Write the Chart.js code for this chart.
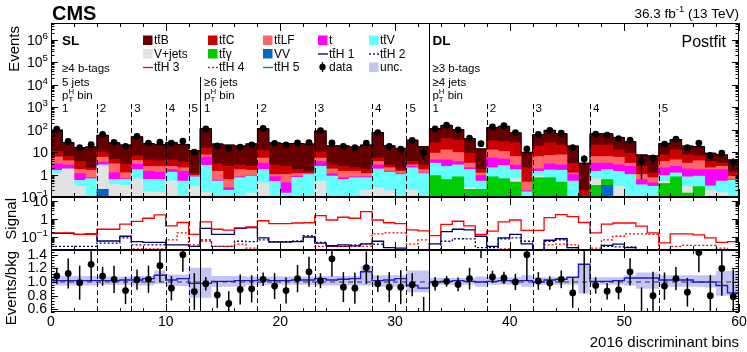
<!DOCTYPE html>
<html>
<head>
<meta charset="utf-8">
<title>2016 discriminant bins</title>
<script src="https://cdn.jsdelivr.net/npm/chart.js@4.4.1/dist/chart.umd.min.js"></script>
<style>
  body { margin: 0; background: #fff; }
  #wrap { position: relative; width: 747px; height: 352px; }
  #wrap canvas { position: absolute; left: 0; top: 0; }
</style>
</head>
<body>
<div id="wrap">
  <canvas id="main" width="747" height="352"></canvas>
  <canvas id="signal" width="747" height="352"></canvas>
  <canvas id="ratio" width="747" height="352"></canvas>
</div>
<script>
// DATA (60 discriminant bins)
const ttB = [85,20,12,15,46,21,17.7,41,19.5,18, 22.5,18.4,10.5,95,20,18.3,16,21,98,23.3,
  21.7,22.3,21.6,78,16.3,16.7,15,19,68.6,16.3, 12.9,30.2,14.7,84,115,66,31,12.2,90,111,
  46,7.8,41.4,67,45.4,15.4,3.0,45.4,45.4,32.6, 20.1,5.2,5.62,16.5,23.6,11.1,10.6,5.1,4.3,3.23];
const ttC = [4.5,2.2,2.1,0.41,3.9,1.8,1.7,2.6,2.2,1.8, 2.2,1.6,0.2,7.5,1.6,1.7,1.04,0.75,6.2,1.65,
  1.3,0.56,0.3,4.4,0.93,0.9,0.6,0.56,1.6,0.7, 0.4,1.1,1.04,17,27.6,24.5,5.7,0.48,19.6,18.5,
  19.7,1.54,12.3,19,13.1,2.0,0.2,14.3,14.3,6.5, 5.7,1.3,0.46,3.7,7.9,4.3,2.7,1.8,0.9,0.42];
const ttLF = [3.0,1.45,0.6,0.83,2.4,1.8,0.55,1.3,0.9,1.0, 0.64,0.6,0.05,1.6,0.84,0.34,0.87,0.65,2.2,0.2,
  0.57,0.25,0.08,1.6,0.67,0.68,0.61,0.3,1.1,0.6, 0.3,0.4,0.48,4.4,7.9,5.7,1.2,0.27,7,5.6,
  3.65,0.27,4.5,4,4.8,0.18,0,3.1,3.1,3.2, 0.9,0.4,0.29,1.8,2.2,1.43,2.44,0.34,0.64,0.25];
const singleTop = [1.45,0.85,0.55,0.07,0.8,0.6,0.05,1.25,0.8,0.67, 0.39,0.89,0.06,3.3,0.05,0.06,0.07,0.05,1.54,0.3,
  0.28,0.1,0.02,1.5,0.25,0.12,0.07,0.08,0.93,0.13, 0.1,0.3,0.08,1.3,2.2,1.1,0.34,0.4,3.4,2.4,
  1.0,0.02,0.4,1.4,1.15,0.49,0,1.8,1.54,1.3, 1.3,0.25,0.13,1.1,1.12,0.98,0.81,1.35,1.15,0.05];
const ttV = [0.4,0.1,0.23,0.63,0.4,0.24,0.27,1.0,0.43,0.44, 0.76,0.51,0.5,2.4,0.41,0.15,0.62,0.7,1.23,0.4,
  0.15,0.75,1.0,1.8,0.85,0.6,0.72,0.52,1.5,1.08, 1.0,1.8,1.1,2.3,1.7,1.9,1.4,0.29,1.2,1.85,
  1.0,0.12,0.55,0.88,1.09,0.41,0,0.75,1.06,1.1, 1.0,0.35,0.3,0.39,0.39,0.5,0.56,0.11,0.35,0.55];
const vJets = [1.15,1.7,0.32,0.02,2.1,0.36,0.33,0.65,0.17,0.16, 0.51,0,0.29,0.16,0.1,0.05,0.1,0.15,0.43,0.1,
  0,0,0,0.51,0,0,0,0.2,0.26,0.19, 0,0.2,0,0,0,0,0.05,0,0,0,
  0.19,0,0.13,0,0,0,0,0.32,0,0.19, 0,0,0,0.11,0,0.14,0,0.2,0.16,0];
const ttGamma = [0,0,0,0,0,0,0,0,0,0, 0,0,0,0,0,0,0,0,0,0,
  0,0,0,0,0,0,0,0,0,0, 0,0,0,0.9,0.6,0.79,0.22,0.22,0.79,0.65,
  0.46,0.05,0.72,0.72,0.46,0.1,0,0.33,0.27,0.1, 0,0,0,0.4,0.79,0.15,0.29,0,0,0];
const diboson = [0,0,0,0,0.22,0,0,0,0,0, 0,0,0,0,0,0,0,0,0,0,
  0,0,0,0,0,0,0,0,0,0, 0,0,0,0,0,0,0,0,0,0,
  0,0,0,0,0,0,0,0,0.33,0, 0,0,0,0,0,0,0,0,0,0];
const observed = [104,29.6,15.6,21.4,60.5,26.8,18,49.5,25,27.4, 24.6,30.8,10,107,18.6,14.1,16.6,21,114,24.4,
  21,25.2,26.5,89.6,25.5,17.6,15.5,25,72,17.6, 13.6,32.6,9.5,107,157,96.5,42,23.6,131,148,
  72,13.7,61,91.6,68.6,15.6,4.9,62.7,57,39.8, 33.4,3.9,5.4,22.6,37.8,15.8,25,7.1,9,3.5];

const ttH1 = [0.16,0.16,0.14,0.15,0.06,0.06,0.11,0.055,0.05,0.05, 0.037,0.037,0.03,0.3,0.14,0.14,0.3,0.33,0.09,0.053,
  0.053,0.055,0.1,0.046,0.033,0.037,0.032,0.042,0.058,0.026, 0.024,0.012,0.012,0.042,0.2,0.27,0.25,0.11,0.03,0.09,
  0.14,0.042,0.012,0.066,0.08,0.026,0.012,0.012,0.034,0.04, 0.026,0.01,0.01,0.008,0.008,0.008,0.008,0.008,0.008,0.008];
const ttH2 = [0.03,0.03,0.03,0.03,0.046,0.046,0.09,0.037,0.037,0.037, 0.02,0.02,0.02,0.07,0.03,0.03,0.058,0.055,0.07,0.055,
  0.055,0.06,0.12,0.05,0.03,0.03,0.037,0.042,0.04,0.017, 0.017,0.01,0.01,0.018,0.058,0.08,0.078,0.026,0.026,0.08,
  0.09,0.058,0.01,0.058,0.07,0.026,0.01,0.01,0.03,0.028, 0.028,0.01,0.01,0.008,0.008,0.008,0.008,0.008,0.008,0.008];
const ttH3 = [0.17,0.17,0.14,0.14,0.27,0.27,0.52,0.74,1.1,1.7, 0.42,0.64,0.14,0.70,0.27,0.24,0.32,0.36,0.8,0.56,
  0.56,0.6,0.62,1.55,0.88,1.25,1.1,2.6,0.88,0.62, 0.55,0.25,0.22,0.12,0.5,0.75,0.42,0.14,0.215,0.70,
  0.88,0.235,0.235,1.2,1.77,1.36,0.64,0.17,0.52,0.6, 0.6,0.4,0.17,0.047,0.15,0.15,0.13,0.09,0.05,0.055];
const ttH4 = [0.01,0.01,0.01,0.01,0.01,0.01,0.01,0.022,0.022,0.022, 0.07,0.17,0.037,0.06,0.03,0.03,0.04,0.024,0.02,0.01,
  0.01,0.01,0.01,0.03,0.03,0.03,0.03,0.03,0.15,0.17, 0.17,0.04,0.07,0.016,0.02,0.02,0.02,0.01,0.019,0.022,
  0.018,0.016,0.01,0.037,0.04,0.037,0.019,0.024,0.07,0.11, 0.15,0.15,0.14,0.01,0.03,0.034,0.034,0.034,0.024,0.019];
const ttH5 = [0.006,0.006,0.005,0.005,0.007,0.007,0.009,0.008,0.008,0.01, 0.006,0.007,0.004,0.009,0.006,0.006,0.007,0.007,0.008,0.006,
  0.006,0.006,0.007,0.01,0.008,0.009,0.009,0.012,0.008,0.007, 0.007,0.005,0.005,0.004,0.006,0.007,0.006,0.004,0.005,0.007,
  0.008,0.005,0.005,0.009,0.01,0.009,0.006,0.005,0.007,0.008, 0.008,0.006,0.005,0.003,0.004,0.004,0.004,0.003,0.003,0.003];

const ratio = [1.09,1.125,0.99,1.26,1.085,1.04,0.875,1.035,1.04,1.24, 0.91,1.40,0.86,0.975,0.81,0.685,0.89,0.9,1.04,0.94,
  0.875,1.05,1.15,1.02,1.34,0.925,0.91,1.21,0.975,0.925, 0.925,0.96,0.5,0.975,1.01,0.965,1.05,1.7,1.075,1.06,
  1.0,1.4,1.015,0.985,1.04,0.84,1.53,0.95,0.865,0.885, 1.15,0.5,0.80,0.94,1.05,0.85,1.435,0.80,1.20,0.785];
const ratioErr = [0.12,0.22,0.25,0.25,0.14,0.2,0.2,0.15,0.2,0.24, 0.18,0.25,0.27,0.1,0.19,0.18,0.22,0.2,0.1,0.19,
  0.19,0.2,0.22,0.11,0.26,0.22,0.23,0.24,0.12,0.22, 0.25,0.17,0.28,0.1,0.08,0.1,0.16,0.35,0.09,0.09,
  0.12,0.38,0.13,0.1,0.13,0.22,0.7,0.12,0.12,0.14, 0.2,0.42,0.35,0.2,0.17,0.21,0.29,0.3,0.4,0.4];
const ratioPred = [1.02,1.02,1.02,1.02,1.02,1.02,1.03,1.03,1.05,1.1, 1.03,1.05,0.98,0.98,1.01,1.01,1.02,1.02,1.03,1.02,
  1.02,1.03,1.03,1.05,1.03,1.04,1.05,1.15,1.02,1.03, 1.05,0.95,0.91,1.0,1.01,1.02,1.01,1.0,1.01,1.02,
  1.02,1.02,1.0,1.03,1.04,1.07,1.26,1.01,1.01,1.02, 1.06,1.06,1.06,1.03,1.03,1.03,1.0,1.0,0.95,0.84];
const bandLo = [0.95,0.95,0.95,0.95,0.96,0.96,0.96,0.95,0.95,0.97, 0.94,0.94,0.77,0.77,0.93,0.93,0.93,0.96,0.96,0.96,
  0.96,0.96,0.96,0.95,0.95,0.95,0.95,0.95,0.93,0.93, 0.93,0.85,0.85,0.96,0.96,0.96,0.96,0.93,0.96,0.96,
  0.96,0.93,0.96,0.96,0.96,0.96,0.83,0.96,0.96,0.96, 0.95,0.9,0.9,0.93,0.93,0.93,0.93,0.92,0.8,0.8];
const bandHi = [1.09,1.09,1.09,1.09,1.08,1.08,1.08,1.09,1.09,1.17, 1.11,1.11,1.21,1.21,1.09,1.09,1.09,1.08,1.08,1.08,
  1.08,1.08,1.08,1.09,1.09,1.09,1.09,1.24,1.1,1.1, 1.1,1.17,1.17,1.06,1.06,1.06,1.06,1.08,1.07,1.07,
  1.07,1.1,1.07,1.07,1.07,1.07,1.27,1.07,1.07,1.07, 1.1,1.14,1.14,1.1,1.1,1.1,1.1,1.1,1.16,1.16];

// category boundaries
const ptBinEdges = [4, 7, 10, 12, 18, 23, 28, 31, 38, 42, 47, 53];
const ptBinNames = ['2', '3', '4', '5', '2', '3', '4', '5', '2', '3', '4', '5'];
const channelEdges = [13, 33];

const FONT = '"Liberation Sans", Arial, Helvetica, sans-serif';
Chart.defaults.font.family = FONT;
Chart.defaults.color = '#000';

const C = {
  ttB: '#660000', ttC: '#cc0000', ttLF: '#ff6666', t: '#ff00ff', ttV: '#66ffff',
  vj: '#e2e2e2', tta: '#00cc00', vv: '#0066cc', navy: '#000066', red: '#ff0000',
  green: '#009900', unc: '#c5c5f5', blue: '#1a1acc'
};

// stack from bottom to top
const bkg = [
  { label: 'VV', values: diboson, color: C.vv },
  { label: 'tt\u0304\u03b3', values: ttGamma, color: C.tta },
  { label: 'V+jets', values: vJets, color: C.vj },
  { label: 'tt\u0304V', values: ttV, color: C.ttV },
  { label: 't', values: singleTop, color: C.t },
  { label: 'tt\u0304LF', values: ttLF, color: C.ttLF },
  { label: 'tt\u0304C', values: ttC, color: C.ttC },
  { label: 'tt\u0304B', values: ttB, color: C.ttB }
];
const total = ttB.map((_, i) => bkg.reduce((s, b) => s + b.values[i], 0));

const steps = arr => arr.map((v, i) => ({ x: i, y: v })).concat([{ x: arr.length, y: arr[arr.length - 1] }]);
const centers = arr => arr.map((v, i) => ({ x: i + 0.5, y: v }));

// ---------- drawing helpers ----------
function fnt(size, bold) { return (bold ? 'bold ' : '') + size + 'px ' + FONT; }

// parts: [text, 'sup'|undefined]
function rich(ctx, parts, x, yc, size, align, bold) {
  const base = yc + 0.36 * size;
  const ws = parts.map(p => { ctx.font = fnt(p[1] ? size * 0.7 : size, bold); return ctx.measureText(p[0]).width; });
  const w = ws.reduce((a, b) => a + b, 0);
  let cx = align === 'right' ? x - w : x;
  ctx.textAlign = 'left';
  ctx.textBaseline = 'alphabetic';
  parts.forEach((p, i) => {
    ctx.font = fnt(p[1] ? size * 0.7 : size, bold);
    ctx.fillText(p[0], cx, base - (p[1] ? 0.42 * size : 0));
    cx += ws[i];
  });
  return w;
}

// text that may start with "tt̄" or contain p_T^H
function label(ctx, s, x, yc, size) {
  const base = yc + 0.36 * size;
  ctx.font = fnt(size);
  ctx.textAlign = 'left';
  ctx.textBaseline = 'alphabetic';
  let cx = x;
  if (s.startsWith('tt\u0304')) {
    const wt = ctx.measureText('t').width;
    ctx.fillText('t', cx, base);
    ctx.fillText('t', cx + wt, base);
    ctx.fillRect(cx + wt + 0.3, base - 0.8 * size, wt - 0.6, 1);
    cx += 2 * wt;
    s = s.slice(3);
  }
  if (s.startsWith('p_T^H')) {
    const wp = ctx.measureText('p').width;
    ctx.fillText('p', cx, base);
    ctx.font = fnt(size * 0.68);
    const wH = ctx.measureText('H').width;
    ctx.fillText('H', cx + wp, base - 0.42 * size);
    ctx.fillText('T', cx + wp, base + 0.28 * size);
    cx += wp + wH;
    ctx.font = fnt(size);
    s = s.slice(5);
  }
  ctx.fillText(s, cx, base);
}

function vtext(ctx, s, x, yTop, size) {
  ctx.save();
  ctx.translate(x, yTop);
  ctx.rotate(-Math.PI / 2);
  ctx.font = fnt(size);
  ctx.textAlign = 'right';
  ctx.textBaseline = 'middle';
  ctx.fillText(s, 0, 0);
  ctx.restore();
}

function logTicks(scale) {
  const out = [];
  for (let k = Math.floor(Math.log10(scale.min)); k <= Math.ceil(Math.log10(scale.max)); k++) {
    for (let m = 1; m <= 9; m++) {
      const v = m * Math.pow(10, k);
      if (v >= scale.min && v <= scale.max) out.push({ v: v, major: m === 1 });
    }
  }
  return out;
}

function logLabels(ctx, scale, xRight, size) {
  const lo = Math.ceil(Math.log10(scale.min) - 1e-9), hi = Math.floor(Math.log10(scale.max) + 1e-9);
  for (let k = lo; k <= hi; k++) {
    const py = scale.getPixelForValue(Math.pow(10, k));
    if (k === 0) rich(ctx, [['1']], xRight, py, size, 'right');
    else if (k === 1) rich(ctx, [['10']], xRight, py, size, 'right');
    else rich(ctx, [['10'], [k < 0 ? '\u2212' + (-k) : String(k), 'sup']], xRight, py, size, 'right');
  }
}

function linTicks(scale, major, minor) {
  const out = [];
  for (let v = Math.ceil(scale.min / minor - 1e-6) * minor; v <= scale.max + 1e-9; v += minor) {
    const r = Math.round(v / major) * major;
    out.push({ v: v, major: Math.abs(r - v) < 1e-6 });
  }
  return out;
}

function drawFrame(chart, yTicks) {
  const { ctx, chartArea: a, scales: { x, y } } = chart;
  ctx.save();
  ctx.strokeStyle = '#000';
  ctx.lineWidth = 1;
  ctx.beginPath();
  ctx.rect(Math.round(a.left) + 0.5, Math.round(a.top) + 0.5, Math.round(a.width) - 1, Math.round(a.height) - 1);
  for (let v = 0; v <= 60; v += 2) {
    const px = Math.round(x.getPixelForValue(v)) + 0.5;
    const l = v % 10 === 0 ? 8 : 4;
    ctx.moveTo(px, a.bottom); ctx.lineTo(px, a.bottom - l);
    ctx.moveTo(px, a.top); ctx.lineTo(px, a.top + l);
  }
  yTicks.forEach(t => {
    const py = Math.round(y.getPixelForValue(t.v)) + 0.5;
    const l = t.major ? 7 : 3.5;
    ctx.moveTo(a.left, py); ctx.lineTo(a.left + l, py);
    ctx.moveTo(a.right, py); ctx.lineTo(a.right - l, py);
  });
  ctx.stroke();
  ctx.restore();
}

function drawBoundaries(chart, dashTop, solidTops) {
  const { ctx, chartArea: a, scales: { x } } = chart;
  ctx.save();
  ctx.strokeStyle = '#000';
  ctx.lineWidth = 1;
  ctx.setLineDash([5, 3]);
  ptBinEdges.forEach(b => {
    const px = Math.round(x.getPixelForValue(b)) + 0.5;
    ctx.beginPath(); ctx.moveTo(px, dashTop == null ? a.top : dashTop); ctx.lineTo(px, a.bottom); ctx.stroke();
  });
  ctx.setLineDash([]);
  channelEdges.forEach((b, i) => {
    const px = Math.round(x.getPixelForValue(b)) + 0.5;
    const t = solidTops[i] == null ? a.top : solidTops[i];
    ctx.beginPath(); ctx.moveTo(px, t); ctx.lineTo(px, a.bottom); ctx.stroke();
  });
  ctx.restore();
}

function errorBars(chart, lows, highs) {
  const { ctx, chartArea: a, scales: { x, y } } = chart;
  ctx.save();
  ctx.beginPath(); ctx.rect(a.left, a.top, a.width, a.height); ctx.clip();
  ctx.strokeStyle = '#000';
  ctx.lineWidth = 1.5;
  lows.forEach((lo, i) => {
    const px = x.getPixelForValue(i + 0.5);
    ctx.beginPath();
    ctx.moveTo(px, y.getPixelForValue(lo));
    ctx.lineTo(px, y.getPixelForValue(highs[i]));
    ctx.stroke();
  });
  ctx.restore();
}

// legend: [kind, colour, text]
const legendItems = [
  ['box', C.ttB, 'tt\u0304B'], ['box', C.ttC, 'tt\u0304C'], ['box', C.ttLF, 'tt\u0304LF'], ['box', C.t, 't'], ['box', C.ttV, 'tt\u0304V'],
  ['box', C.vj, 'V+jets'], ['box', C.tta, 'tt\u0304\u03b3'], ['box', C.vv, 'VV'], ['line', C.navy, 'tt\u0304H 1'], ['dot', C.navy, 'tt\u0304H 2'],
  ['line', C.red, 'tt\u0304H 3'], ['dot', C.red, 'tt\u0304H 4'], ['line', C.green, 'tt\u0304H 5'], ['data', '#000', 'data'], ['box', C.unc, 'unc.']
];
const legendCols = [143, 208, 263, 318, 369];
const legendRows = [40, 53.5, 67];

function drawLegend(ctx) {
  legendItems.forEach((it, i) => {
    const x = legendCols[i % 5], y = legendRows[Math.floor(i / 5)];
    ctx.save();
    if (it[0] === 'box') { ctx.fillStyle = it[1]; ctx.fillRect(x, y - 4.5, 9.5, 9.5); }
    else if (it[0] === 'line' || it[0] === 'dot') {
      ctx.strokeStyle = it[1]; ctx.lineWidth = 1.3;
      if (it[0] === 'dot') ctx.setLineDash([2, 2]);
      ctx.beginPath(); ctx.moveTo(x, y + 0.5); ctx.lineTo(x + 10, y + 0.5); ctx.stroke();
    } else {
      ctx.fillStyle = '#000'; ctx.strokeStyle = '#000'; ctx.lineWidth = 1.2;
      ctx.beginPath(); ctx.moveTo(x + 4.5, y - 5); ctx.lineTo(x + 4.5, y + 5); ctx.stroke();
      ctx.beginPath(); ctx.arc(x + 4.5, y, 3.2, 0, Math.PI * 2); ctx.fill();
    }
    ctx.restore();
    ctx.fillStyle = '#000';
    label(ctx, it[2], x + 11, y, 12);
  });
}

// region descriptions: [first bin, x offset, lines]
const regionText = [
  { bin: 0, dx: 11, lines: [['SL', 40.5, true], ['\u22654 b-tags', 67.5], ['5 jets', 81.5], ['p_T^H bin', 95], ['1', 108]] },
  { bin: 13, dx: 4, lines: [['\u22656 jets', 81.5], ['p_T^H bin', 95], ['1', 108]] },
  { bin: 33, dx: 3, lines: [['DL', 40.5, true], ['\u22653 b-tags', 67.5], ['\u22654 jets', 81.5], ['p_T^H bin', 95], ['1', 108]] }
];

const hidden = { display: false };
function opts(padding, scales) {
  return {
    responsive: false, animation: false, devicePixelRatio: 1, events: [],
    layout: { padding: padding },
    plugins: { legend: hidden, tooltip: { enabled: false } },
    scales: scales
  };
}
const xHidden = { type: 'linear', min: 0, max: 60, offset: false, display: false };

// ---------- main panel ----------
const mainDecor = {
  id: 'mainDecor',
  afterDatasetsDraw(chart) {
    errorBars(chart,
      observed.map((v, i) => v * (1 - ratioErr[i] / ratio[i])),
      observed.map((v, i) => v * (1 + ratioErr[i] / ratio[i])));
    drawBoundaries(chart, 104, [77, null]);
  },
  afterDraw(chart) {
    const { ctx, chartArea: a, scales: { x, y } } = chart;
    drawFrame(chart, logTicks(y));
    ctx.save();
    ctx.fillStyle = '#000';
    logLabels(ctx, y, 48, 14);
    rich(ctx, [['CMS']], 52, 12.5, 20, 'left', true);
    rich(ctx, [['36.3 fb'], ['-1', 'sup'], [' (13 TeV)']], 739, 13, 13.5, 'right');
    rich(ctx, [['Postfit']], 726, 41, 16, 'right');
    vtext(ctx, 'Events', 14.5, 26, 15);
    vtext(ctx, 'Signal', 12, 198, 15);
    vtext(ctx, 'Events/bkg', 12, 251, 15);
    rich(ctx, [['2016 discriminant bins']], 739, 342, 15, 'right');
    regionText.forEach(r => {
      const x0 = x.getPixelForValue(r.bin) + r.dx;
      r.lines.forEach(l => {
        if (l[2]) rich(ctx, [[l[0]]], x0, l[1], 13.5, 'left', true);
        else label(ctx, l[0], x0, l[1], 11.5);
      });
    });
    ptBinEdges.forEach((b, i) => label(ctx, ptBinNames[i], x.getPixelForValue(b) + 3, 108, 11.5));
    drawLegend(ctx);
    ctx.restore();
  }
};

new Chart(document.getElementById('main'), {
  type: 'bar',
  data: {
    datasets: [
      { type: 'scatter', data: centers(observed), backgroundColor: '#000', borderWidth: 0, pointRadius: 3.4, stack: 'obs' },
      { type: 'line', data: steps(total), borderColor: '#000', borderWidth: 1, pointRadius: 0, stepped: 'before', fill: false, stack: 'outline' }
    ].concat(bkg.map(b => ({
      type: 'bar', label: b.label, data: centers(b.values), backgroundColor: b.color,
      borderWidth: 0, barPercentage: 1, categoryPercentage: 1, stack: 'bkg'
    })))
  },
  options: opts({ left: 51, right: 8, top: 23, bottom: 155 }, {
    x: xHidden,
    y: { type: 'logarithmic', min: 0.1, max: 5.5e6, stacked: true, display: false }
  }),
  plugins: [mainDecor]
});

// ---------- signal panel ----------
const sigDecor = {
  id: 'sigDecor',
  afterDatasetsDraw(chart) { drawBoundaries(chart, null, [null, null]); },
  afterDraw(chart) {
    drawFrame(chart, logTicks(chart.scales.y));
    chart.ctx.save();
    chart.ctx.fillStyle = '#000';
    logLabels(chart.ctx, chart.scales.y, 48, 14);
    chart.ctx.restore();
  }
};
const sigLine = (arr, color, dotted) => ({
  data: steps(arr), borderColor: color, borderWidth: 1.3, pointRadius: 0, stepped: 'before',
  fill: false, borderDash: dotted ? [2, 2] : []
});
new Chart(document.getElementById('signal'), {
  type: 'line',
  data: { datasets: [sigLine(ttH3, C.red), sigLine(ttH1, C.navy), sigLine(ttH4, C.red, true), sigLine(ttH2, C.navy, true), sigLine(ttH5, C.green)] },
  options: opts({ left: 51, right: 8, top: 197, bottom: 102 }, {
    x: xHidden,
    y: { type: 'logarithmic', min: 0.019, max: 16.7, display: false }
  }),
  plugins: [sigDecor]
});

// ---------- ratio panel ----------
const ratioDecor = {
  id: 'ratioDecor',
  afterDatasetsDraw(chart) {
    errorBars(chart, ratio.map((v, i) => v - ratioErr[i]), ratio.map((v, i) => v + ratioErr[i]));
    drawBoundaries(chart, null, [null, null]);
  },
  afterDraw(chart) { drawFrame(chart, linTicks(chart.scales.y, 0.2, 0.04)); }
};
new Chart(document.getElementById('ratio'), {
  type: 'line',
  data: {
    datasets: [
      { type: 'scatter', data: centers(ratio), backgroundColor: '#000', borderWidth: 0, pointRadius: 3.4, clip: 0 },
      { data: steps(ratioPred), borderColor: C.blue, borderWidth: 1.4, pointRadius: 0, stepped: 'before', fill: false },
      { data: [{ x: 0, y: 1 }, { x: 60, y: 1 }], borderColor: '#666', borderWidth: 1.5, borderDash: [5, 4], pointRadius: 0, fill: false },
      { data: steps(bandHi), borderWidth: 0, pointRadius: 0, stepped: 'before', fill: '+1', backgroundColor: C.unc },
      { data: steps(bandLo), borderWidth: 0, pointRadius: 0, stepped: 'before', fill: false }
    ]
  },
  options: opts({ left: 0, right: 8, top: 250, bottom: 0 }, {
    x: {
      type: 'linear', min: 0, max: 60, offset: false,
      grid: { display: false, drawTicks: false }, border: { display: false },
      ticks: { stepSize: 10, autoSkip: false, font: { size: 14 }, padding: 2, maxRotation: 0, color: '#000' },
      afterFit: s => { s.height = 40; s.paddingLeft = 0; s.paddingRight = 0; }
    },
    y: {
      type: 'linear', min: 0.56, max: 1.47,
      grid: { display: false, drawTicks: false }, border: { display: false },
      ticks: { stepSize: 0.2, autoSkip: false, includeBounds: false, font: { size: 14 }, padding: 4, color: '#000', callback: v => v.toFixed(1) },
      afterFit: s => { s.width = 51; s.paddingTop = 0; s.paddingBottom = 0; }
    }
  }),
  plugins: [ratioDecor]
});
</script>
</body>
</html>
